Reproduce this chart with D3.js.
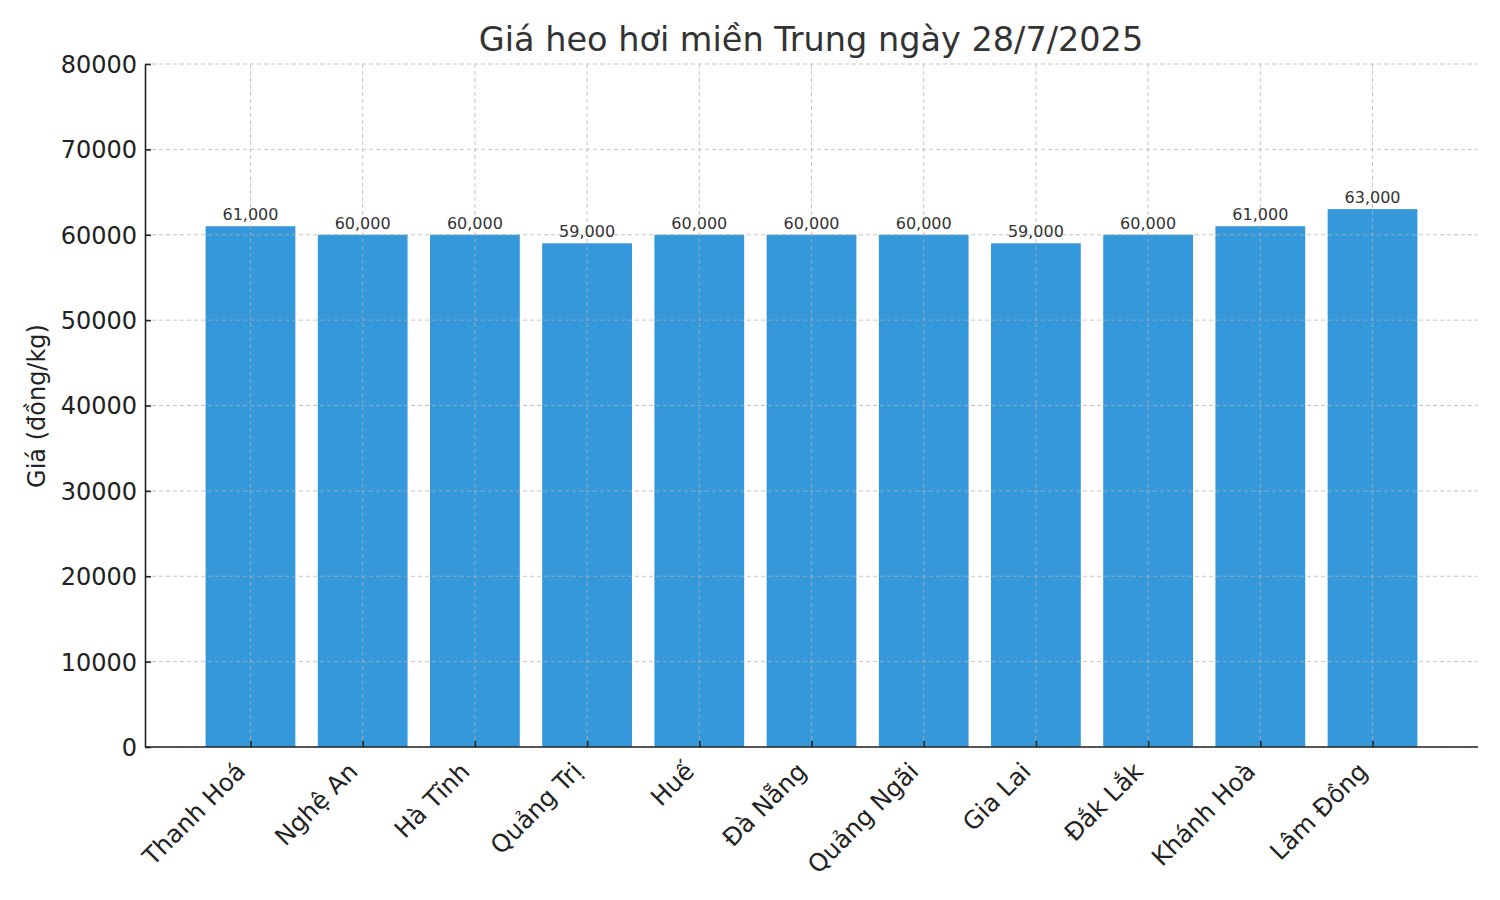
<!DOCTYPE html>
<html><head><meta charset="utf-8">
<script src="https://cdn.jsdelivr.net/npm/d3@7/dist/d3.min.js"></script>
<style>body{margin:0;background:#fff;} text{font-family:"DejaVu Sans",sans-serif;}</style>
</head><body>
<svg id="c" width="1500" height="900"></svg>
<script>
const categories = ["Thanh Hoá","Nghệ An","Hà Tĩnh","Quảng Trị","Huế","Đà Nẵng","Quảng Ngãi","Gia Lai","Đắk Lắk","Khánh Hoà","Lâm Đồng"];
const prices = [61000,60000,60000,59000,60000,60000,60000,59000,60000,61000,63000];
const yTicks = [0,10000,20000,30000,40000,50000,60000,70000,80000];
const titleText = "Giá heo hơi miền Trung ngày 28/7/2025";
const yLabel = "Giá (đồng/kg)";

const svg = d3.select("#c");
const L=145,R=1478,T=64,B=747;
const x = d3.scaleLinear().domain([-0.94,10.94]).range([L,R]);
const y = d3.scaleLinear().domain([0,80000]).range([B,T]);
const bw = x(0.4)-x(-0.4);

svg.append("g").selectAll("rect").data(prices).join("rect")
  .attr("x",(d,i)=>x(i)-bw/2).attr("width",bw)
  .attr("y",d=>y(d)).attr("height",d=>y(0)-y(d)).attr("fill","#3498db");

// grid
const g = svg.append("g").attr("stroke","#b0b0b0").attr("stroke-opacity",0.75).attr("stroke-dasharray","4,3").attr("stroke-width",1);
g.selectAll(".h").data(yTicks).join("line").attr("x1",L).attr("x2",R).attr("y1",d=>y(d)).attr("y2",d=>y(d));
g.selectAll(".v").data(categories).join("line").attr("x1",(d,i)=>x(i)).attr("x2",(d,i)=>x(i)).attr("y1",T).attr("y2",B);

// value labels
svg.append("g").selectAll("text").data(prices).join("text")
  .attr("x",(d,i)=>x(i)).attr("y",d=>y(d)-6).attr("text-anchor","middle")
  .attr("font-size",16).attr("fill","#333").text(d=>d3.format(",")(d));

// axes
const ya = svg.append("g").attr("transform",`translate(${L},0)`)
  .call(d3.axisLeft(y).tickValues(yTicks).tickFormat(d3.format("d")).tickSizeInner(-6).tickSizeOuter(0).tickPadding(8));
ya.select(".domain").attr("stroke","#222").attr("stroke-width",1.6);
ya.selectAll(".tick line").attr("stroke","#222").attr("stroke-width",1.6);
ya.selectAll(".tick text").attr("font-size",24).attr("fill","#222").attr("font-family","DejaVu Sans").attr("x",-8).attr("dy","0.35em");

const xa = svg.append("g").attr("transform",`translate(0,${B})`)
  .call(d3.axisBottom(x).tickValues(d3.range(categories.length)).tickFormat(i=>categories[i]).tickSizeInner(-6).tickSizeOuter(0));
xa.select(".domain").attr("stroke","#222").attr("stroke-width",1.6).attr("d",`M${L},0H${R}`);
xa.selectAll(".tick line").attr("stroke","#222").attr("stroke-width",1.6);
xa.selectAll(".tick text").attr("font-size",24.5).attr("fill","#222").attr("font-family","DejaVu Sans")
  .attr("text-anchor","end").attr("dy",null).attr("y",null)
  .attr("transform","translate(-9,21) rotate(-45)").attr("dominant-baseline","middle");

svg.append("text").attr("x",811).attr("y",51).attr("text-anchor","middle").attr("font-size",33.5).attr("fill","#333").text(titleText);
svg.append("text").attr("transform","translate(45,406) rotate(-90)").attr("text-anchor","middle").attr("font-size",24).attr("fill","#222").text(yLabel);
</script>
</body></html>
